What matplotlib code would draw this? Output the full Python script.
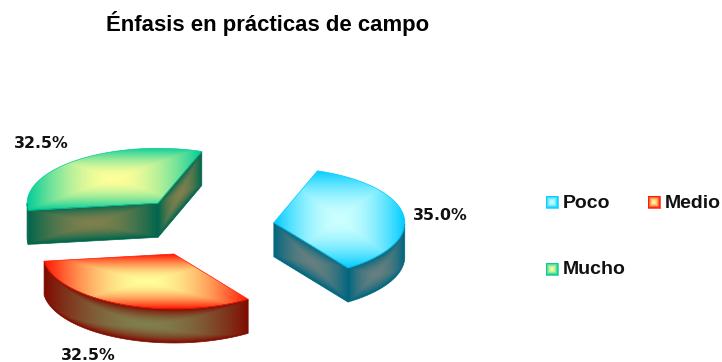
import numpy as np
import matplotlib
matplotlib.use("Agg")
import matplotlib.pyplot as plt
from matplotlib.patches import Polygon

categories = ["Poco", "Medio", "Mucho"]
values = [35.0, 32.5, 32.5]
labels = ["35.0%", "32.5%", "32.5%"]
title = "Énfasis en prácticas de campo"

outer_colors = [(0, 204, 255), (255, 20, 0), (0, 204, 153)]
inner_colors = [(204, 255, 255), (255, 255, 153), (255, 255, 153)]

# pie geometry, in pixels of the picture
cx, cy = 203, 226.6
rx, ry = 131, 55
depth = 34
explode = 0.545
start_angle = 70.5
label_pos = [(413, 216), (61, 356), (14, 144)]

plt.rcParams["font.family"] = ["Liberation Sans", "DejaVu Sans"]

fig = plt.figure(figsize=(7.22, 3.62), dpi=100)
ax = fig.add_axes([0, 0, 1, 1])


def paint(ax, poly, rgb_out, rgb_in, top_edge=None, scale=1.0):
    # rectangular path gradient clipped to a polygon
    poly = np.asarray(poly)
    x0, y0 = poly.min(axis=0)
    x1, y1 = poly.max(axis=0)
    xs = np.linspace(x0, x1, max(int((x1 - x0) * 2), 4))
    ys = np.linspace(y0, y1, max(int((y1 - y0) * 2), 4))
    gx, gy = np.meshgrid(xs, ys)
    u = (gx - x0) / max(x1 - x0, 1e-6)
    if top_edge is None:
        v = (gy - y0) / max(y1 - y0, 1e-6)
    else:
        order = np.argsort(top_edge[:, 0])
        v = (gy - np.interp(gx, top_edge[order, 0], top_edge[order, 1])) / depth
    w = np.clip(1 - np.maximum(abs(2 * u - 1), abs(2 * v - 1)), 0, 1)
    w = (1 - (1 - w) ** 1.8)[..., None]
    rgb = (np.array(rgb_out) + (np.array(rgb_in) - np.array(rgb_out)) * w) * scale / 255
    im = ax.imshow(rgb, extent=(x0, x1, y1, y0), origin="upper", aspect="auto",
                   interpolation="bilinear", zorder=2)
    patch = Polygon(poly, closed=True, facecolor="none",
                    edgecolor=np.array(rgb_out) * scale / 255, lw=0.5, zorder=3)
    ax.add_patch(patch)
    im.set_clip_path(patch)


angle = start_angle
for val, c_out, c_in in zip(values, outer_colors, inner_colors):
    t0 = angle
    t1 = angle - val * 3.6
    angle = t1
    mid = np.radians((t0 + t1) / 2)
    ox = cx + explode * rx * np.cos(mid)
    oy = cy - explode * ry * np.sin(mid)

    tt = np.radians(np.linspace(t0, t1, 80))
    arc = np.column_stack([ox + rx * np.cos(tt), oy - ry * np.sin(tt)])
    center = np.array([[ox, oy]])
    drop = np.array([0, depth])

    # side walls first, then the top face
    if np.cos(np.radians(t0)) < 0:
        edge = np.vstack([center, arc[:1]])
        paint(ax, np.vstack([edge, edge[::-1] + drop]), c_out, c_in, edge, 0.5)
    if np.cos(np.radians(t1)) > 0:
        edge = np.vstack([center, arc[-1:]])
        paint(ax, np.vstack([edge, edge[::-1] + drop]), c_out, c_in, edge, 0.5)
    front = arc[np.sin(tt) < 0]
    if len(front) > 3:
        paint(ax, np.vstack([front, front[::-1] + drop]), c_out, c_in, front, 0.5)
    paint(ax, np.vstack([center, arc]), c_out, c_in)

for lab, (lx, ly) in zip(labels, label_pos):
    ax.text(lx, ly, lab, fontsize=11.3, fontweight="bold", color="#111111",
            family="DejaVu Sans", ha="left", va="center")

ax.text(106, 24, title, fontsize=15.9, fontweight="bold", color="black",
        ha="left", va="center")

legend_pos = [(546, 202), (648, 202), (546, 269)]
for name, (lx, ly), c_out, c_in in zip(categories, legend_pos, outer_colors, inner_colors):
    sq = [(lx, ly - 6), (lx + 12, ly - 6), (lx + 12, ly + 6), (lx, ly + 6)]
    paint(ax, sq, c_out, c_in)
    ax.text(lx + 17, ly + 1, name, fontsize=14, fontweight="bold", color="#111111",
            ha="left", va="center")

ax.set_xlim(0, 722)
ax.set_ylim(362, 0)
ax.axis("off")

fig.savefig("out.png", dpi=100)
